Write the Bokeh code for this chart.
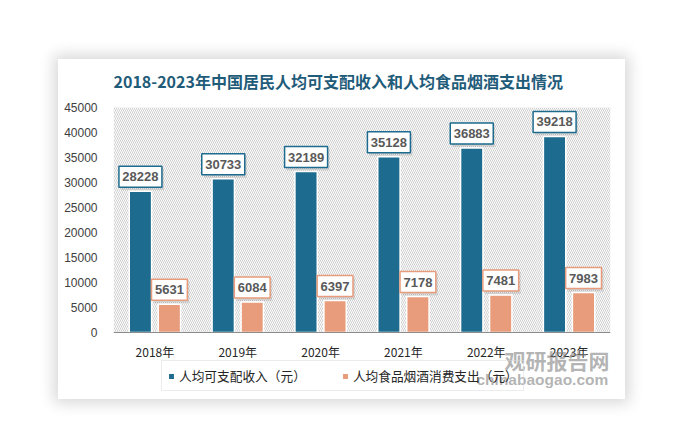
from bokeh.plotting import figure
from bokeh.models import (ColumnDataSource, FactorRange, Range1d, BoxAnnotation, Legend, LegendItem,
                          Label, FixedTicker, NumeralTickFormatter)
from bokeh.transform import dodge
from bokeh.core.properties import value
from bokeh.embed import file_html
from bokeh.resources import INLINE

# ---- data ----
years = ["2018年", "2019年", "2020年", "2021年", "2022年", "2023年"]
income = [28228, 30733, 32189, 35128, 36883, 39218]
food = [5631, 6084, 6397, 7178, 7481, 7983]
y_ticks = [0, 5000, 10000, 15000, 20000, 25000, 30000, 35000, 40000, 45000]
series_names = ["人均可支配收入（元）", "人均食品烟酒消费支出（元）"]
title_text = "2018-2023年中国居民人均可支配收入和人均食品烟酒支出情况"
watermark = ["观研报告网", "chinabaogao.com"]

BLUE = "#1d6b8e"
SALMON = "#e89c7c"
Y_MAX = 45000
FRAME_H = 225          # pixels between 0 and 45000
BELOW_H = 67           # pixels below the zero line (axis labels, legend)
ABOVE_H = 48           # pixels above 45000 (title)
px = Y_MAX / FRAME_H   # data units per pixel

src = ColumnDataSource(dict(
    years=years,
    income=income,
    food=food,
    income_lbl=[str(v) for v in income],
    food_lbl=[str(v) for v in food],
    income_ly=[v + 14.5 * px for v in income],
    food_ly=[v + 14.5 * px for v in food],
    income_w=[len(str(v)) * 7.2 + 7 for v in income],
    food_w=[len(str(v)) * 7.2 + 7 for v in food],
))

p = figure(x_range=FactorRange(*years, range_padding=0),
           y_range=Range1d(-BELOW_H * px, Y_MAX + ABOVE_H * px), title=None,
           width=567, height=340, output_backend="svg", toolbar_location=None,
           min_border_left=55, min_border_right=15, min_border_top=0, min_border_bottom=0)
p.styles = {"margin-left": "58px", "margin-top": "59px",
            "box-shadow": "0px 0px 14px 4px rgba(0,0,0,0.16)"}

p.outline_line_color = None
p.background_fill_color = "white"
p.border_fill_color = "white"
p.xgrid.grid_line_color = None
p.ygrid.grid_line_color = None

# hatched plot area (between 0 and 45000)
p.add_layout(BoxAnnotation(bottom=0, top=Y_MAX, level="underlay", fill_color="white", fill_alpha=1,
                           hatch_pattern="\\", hatch_color="#cfcfcf", hatch_scale=4,
                           hatch_weight=1, line_color=None))

off = 0.175
bw = 0.27
r1 = p.vbar(x=dodge("years", -off, range=p.x_range), top="income", bottom=0, width=bw,
            source=src, fill_color=BLUE, line_color="white", line_width=1.5)
r2 = p.vbar(x=dodge("years", off, range=p.x_range), top="food", bottom=0, width=bw,
            source=src, fill_color=SALMON, line_color="white", line_width=1.5)

# label boxes (shadow + box + text)
for col, lycol, wcol, xoff, color in [("income_lbl", "income_ly", "income_w", -off, BLUE),
                                      ("food_lbl", "food_ly", "food_w", off, SALMON)]:
    p.rect(x=dodge("years", xoff + 0.025, range=p.x_range), y=dodge(lycol, -2.5 * px), width=wcol,
           height=22, width_units="screen", height_units="screen", source=src,
           fill_color="#000000", fill_alpha=0.10, line_color=None)
    p.rect(x=dodge("years", xoff, range=p.x_range), y=lycol, width=wcol, height=21,
           width_units="screen", height_units="screen", source=src,
           fill_color="white", line_color=color, line_width=1.5)
    p.text(x=dodge("years", xoff, range=p.x_range), y=lycol, text=col, source=src,
           text_align="center", text_baseline="middle", text_font=value("Liberation Sans"),
           text_font_size="13px", text_font_style="bold", text_color="#595959")

# axes
p.yaxis.ticker = FixedTicker(ticks=y_ticks)
p.yaxis.formatter = NumeralTickFormatter(format="0")
p.yaxis.axis_line_color = None
p.yaxis.major_tick_line_color = None
p.yaxis.minor_tick_line_color = None
p.yaxis.major_label_standoff = 10
p.yaxis.major_label_text_font = "Liberation Sans"
p.yaxis.major_label_text_font_size = "12px"
p.yaxis.major_label_text_color = "#404040"

p.xaxis.fixed_location = 0
p.xaxis.axis_line_color = "#8c8c8c"
p.xaxis.axis_line_width = 1.2
p.xaxis.major_tick_line_color = None
p.xaxis.minor_tick_line_color = None
p.xaxis.major_label_standoff = 4
p.xaxis.major_label_text_font = "Noto Sans CJK SC"
p.xaxis.major_label_text_font_size = "12px"
p.xaxis.major_label_text_color = "#262626"

# title
p.add_layout(Label(x=0, y=319, x_units="screen", y_units="screen", text=title_text,
                   text_font="Noto Sans CJK SC", text_font_size="16px",
                   text_font_style="bold", text_color="#1f5c7a", text_baseline="middle"))

legend = Legend(items=[LegendItem(label=series_names[0], renderers=[r1]),
                       LegendItem(label=series_names[1], renderers=[r2])],
                orientation="horizontal", location=(48, 8),
                border_line_color="#d9d9d9", border_line_width=1,
                background_fill_alpha=0,
                glyph_width=8, glyph_height=8, label_standoff=4, spacing=35,
                padding=5, label_height=14,
                label_text_font="Noto Sans CJK SC", label_text_font_size="12.7px",
                label_text_color="#262626")
p.add_layout(legend)

# watermark
p.add_layout(Label(x=391, y=40, x_units="screen", y_units="screen", text=watermark[0],
                   text_font="Noto Sans CJK SC", text_font_size="21px",
                   text_font_style="bold", text_color="#828282", text_alpha=0.6,
                   text_baseline="middle"))
p.add_layout(Label(x=363, y=20, x_units="screen", y_units="screen", text=watermark[1],
                   text_font="Liberation Sans", text_font_size="15.5px",
                   text_font_style="bold", text_color="#828282", text_alpha=0.6,
                   text_baseline="middle"))

open("out.html", "w").write(file_html(p, INLINE))
